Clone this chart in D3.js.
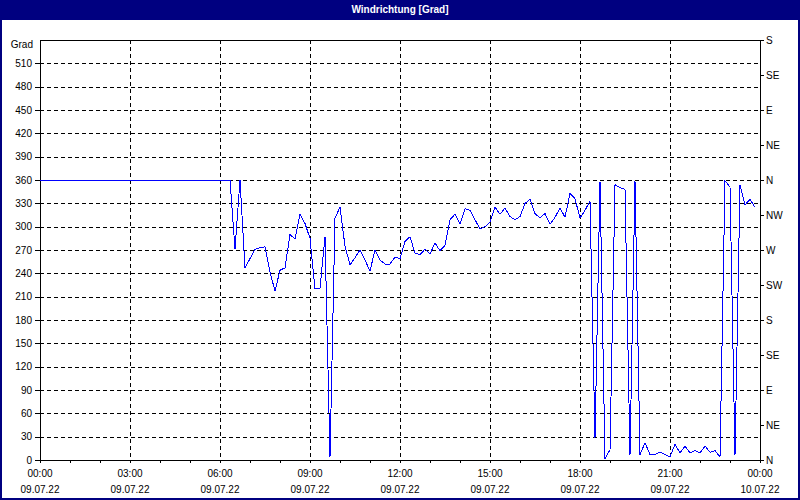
<!DOCTYPE html>
<html><head><meta charset="utf-8">
<script src="https://cdn.jsdelivr.net/npm/d3@7"></script>
<style>
body{margin:0;background:#fff}
svg{display:block}
text{font-family:"Liberation Sans",Arial,sans-serif;font-size:10px;fill:#000}
</style>
</head><body>
<svg id="c" width="800" height="500"></svg>
<script>
const title = "Windrichtung [Grad]";
const yUnit = "Grad";
const day = "2022-07-09";
const times = [
 "00:00",
 "06:20","06:30","06:40","06:50",
 "07:00","07:10","07:20","07:30","07:40","07:50",
 "08:00","08:10","08:20","08:30","08:40","08:50",
 "09:00","09:10","09:20","09:30","09:40","09:50",
 "10:00","10:10","10:20","10:30","10:40","10:50",
 "11:00","11:10","11:20","11:30","11:40","11:50",
 "12:00","12:10","12:20","12:30","12:40","12:50",
 "13:00","13:10","13:20","13:30","13:40","13:50",
 "14:00","14:10","14:20","14:30","14:40","14:50",
 "15:00","15:10","15:20","15:30","15:40","15:50",
 "16:00","16:10","16:20","16:30","16:40","16:50",
 "17:00","17:10","17:20","17:30","17:40","17:50",
 "18:00","18:10","18:20","18:30","18:40","18:50",
 "19:00","19:10","19:20","19:30","19:40","19:50",
 "20:00","20:10","20:20","20:30","20:40","20:50",
 "21:00","21:10","21:20","21:30","21:40","21:50",
 "22:00","22:10","22:20","22:30","22:40","22:50",
 "23:00","23:10","23:20","23:30","23:40","23:50"
];
const values = [
 360,
 360,271,360,247,
 259,271,273,274,242,217,
 244,247,290,284,316,304,
 285,220,221,287,4,311,
 325,275,251,260,270,257,
 243,270,257,252,252,261,
 259,281,287,266,264,271,
 265,279,269,276,309,316,
 303,323,321,309,297,300,
 306,325,316,324,313,309,
 313,330,335,317,311,317,
 303,312,324,312,343,336,
 311,321,333,28,358,2,
 13,354,350,348,6,359,
 7,22,7,7,10,7,
 4,20,9,18,9,12,
 9,18,10,12,4,359,
 351,6,354,328,335,325
];
const leftTicks = [0,30,60,90,120,150,180,210,240,270,300,330,360,390,420,450,480,510];
const gridValues = [30,60,90,120,150,180,210,240,270,300,330,360,390,420,450,480,510];
const rightTicks = [0,45,90,135,180,225,270,315,360,405,450,495,540];
const rightLabels = ["N","NE","E","SE","S","SW","W","NW","N","NE","E","SE","S"];
const xLabelTimes = ["2022-07-09 00:00","2022-07-09 03:00","2022-07-09 06:00","2022-07-09 09:00","2022-07-09 12:00","2022-07-09 15:00","2022-07-09 18:00","2022-07-09 21:00","2022-07-10 00:00"];
const xTimeLabels = ["00:00","03:00","06:00","09:00","12:00","15:00","18:00","21:00","00:00"];
const xDateLabels = ["09.07.22","09.07.22","09.07.22","09.07.22","09.07.22","09.07.22","09.07.22","09.07.22","10.07.22"];

const parse = d3.timeParse("%Y-%m-%d %H:%M");
const data = times.map((t,i)=>({t:parse(day+" "+t), v:values[i]}));
const labelDates = xLabelTimes.map(parse);

const W=800,H=500, L=40,R=760,T=40,B=460;
const svg = d3.select("#c");
const x = d3.scaleTime().domain([parse("2022-07-09 00:00"), parse("2022-07-10 00:00")]).range([L,R]);
const y = d3.scaleLinear().domain([0,540]).range([B,T]);

// background & title
svg.append("rect").attr("x",0).attr("y",0).attr("width",W).attr("height",H).attr("fill","#fff");
svg.append("rect").attr("x",0).attr("y",0).attr("width",W).attr("height",20).attr("fill","#000080");
svg.append("rect").attr("x",1).attr("y",1).attr("width",W-2).attr("height",H-2)
  .attr("fill","none").attr("stroke","#000080").attr("stroke-width",2);
svg.append("text").attr("x",W/2).attr("y",13).attr("text-anchor","middle")
  .style("fill","#fff").style("font-weight","bold").text(title);

// grid
const g = svg.append("g").attr("shape-rendering","crispEdges");
g.selectAll("line.h").data(gridValues).join("line")
  .attr("x1",L).attr("x2",R).attr("y1",d=>Math.round(y(d))+0.5).attr("y2",d=>Math.round(y(d))+0.5)
  .attr("stroke","#000").attr("stroke-dasharray","4,3");
g.selectAll("line.v").data(labelDates.slice(1,-1)).join("line")
  .attr("y1",T).attr("y2",B).attr("x1",d=>Math.round(x(d))+0.5).attr("x2",d=>Math.round(x(d))+0.5)
  .attr("stroke","#000").attr("stroke-dasharray","4,3");

// axes
const la = svg.append("g").attr("transform",`translate(${L},0)`)
  .call(d3.axisLeft(y).tickValues(leftTicks).tickSize(5).tickPadding(3).tickFormat(d3.format("d")));
const ra = svg.append("g").attr("transform",`translate(${R},0)`)
  .call(d3.axisRight(y).tickValues(rightTicks).tickSize(4).tickPadding(2).tickFormat((d,i)=>rightLabels[i]));
const ba = svg.append("g").attr("transform",`translate(0,${B})`)
  .call(d3.axisBottom(x).ticks(d3.timeHour.every(1)).tickSize(3).tickFormat(""));
[la,ra,ba].forEach(a=>{
  a.select(".domain").remove();
  a.selectAll("line").attr("stroke","#000").attr("shape-rendering","crispEdges");
  a.selectAll("text").style("font-family",'"Liberation Sans",Arial,sans-serif').style("font-size","10px").attr("fill","#000");
});

// bottom labels
svg.selectAll("text.tl").data(labelDates).join("text").attr("class","tl")
  .attr("x",d=>x(d)).attr("y",477).attr("text-anchor","middle").text((d,i)=>xTimeLabels[i]);
svg.selectAll("text.dl").data(labelDates).join("text").attr("class","dl")
  .attr("x",d=>x(d)).attr("y",493).attr("text-anchor","middle").text((d,i)=>xDateLabels[i]);

svg.append("text").attr("x",33).attr("y",48).attr("text-anchor","end").text(yUnit);

// frame
svg.append("rect").attr("x",L+0.5).attr("y",T+0.5).attr("width",R-L).attr("height",B-T)
  .attr("fill","none").attr("stroke","#000").attr("shape-rendering","crispEdges");

// data line
svg.append("path").datum(data)
  .attr("d", d3.line().x(d=>x(d.t)).y(d=>y(d.v)))
  .attr("fill","none").attr("stroke","#0000ff").attr("stroke-width",1)
  .attr("shape-rendering","crispEdges");
</script>
</body></html>
